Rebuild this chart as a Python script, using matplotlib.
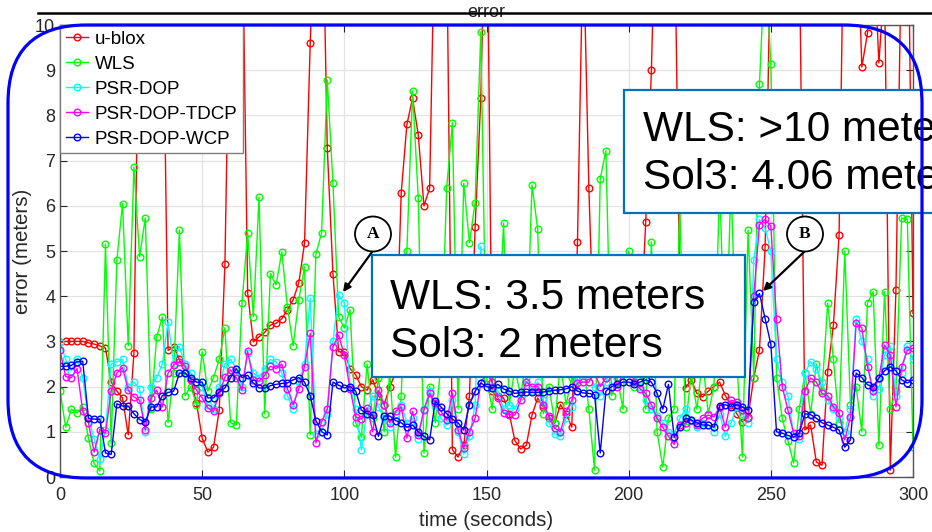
import numpy as np
import matplotlib
matplotlib.use('Agg')
import matplotlib.pyplot as plt
from matplotlib.patches import FancyBboxPatch, Rectangle, Ellipse, FancyArrowPatch
from matplotlib.lines import Line2D
from matplotlib.transforms import IdentityTransform

plt.rcParams['font.family'] = ['Liberation Sans', 'DejaVu Sans']

# one sample every 2 seconds, 0..300 s
time_s = np.arange(0, 301, 2)

ublox = [2.98, 3.00, 3.00, 3.00, 3.00, 2.97, 2.94, 2.90, 2.85, 2.10,
         1.90, 1.75, 0.93, 2.74, 12.0, 14.0, 15.0, 13.0, 12.0, 2.80,
         2.88, 2.60, 2.30, 2.15, 1.64, 0.86, 0.55, 0.66, 1.48, 4.71,
         12.0, 15.0, 13.0, 4.07, 2.99, 3.10, 3.20, 3.36, 3.40, 3.50,
         3.70, 3.92, 4.30, 5.17, 9.60, 13.0, 14.0, 7.28, 4.50, 2.77,
         2.77, 2.40, 2.26, 2.00, 1.92, 2.15, 1.80, 1.60, 2.00, 2.30,
         6.28, 7.80, 8.38, 7.57, 6.00, 6.39, 13.0, 15.0, 12.0, 0.60,
         0.44, 0.70, 1.80, 5.53, 8.38, 14.0, 1.90, 1.80, 1.75, 1.40,
         0.80, 0.62, 0.70, 1.37, 1.75, 1.55, 1.30, 1.19, 1.60, 1.40,
         1.10, 5.20, 12.0, 6.39, 2.50, 2.80, 2.20, 3.20, 2.60, 3.00,
         2.40, 2.70, 3.00, 5.64, 9.00, 14.0, 16.0, 15.0, 13.0, 4.00,
         1.97, 2.15, 1.85, 1.77, 1.90, 2.00, 2.10, 1.80, 1.60, 1.40,
         1.22, 1.33, 2.20, 2.81, 5.09, 12.0, 15.0, 14.0, 13.0, 15.0,
         12.0, 1.04, 1.15, 0.33, 0.26, 2.33, 3.36, 5.35, 14.0, 16.0,
         13.0, 9.07, 9.82, 12.0, 9.16, 11.0, 0.15, 4.14, 12.0, 14.0,
         3.62]

wls = [1.90, 1.10, 1.50, 1.42, 1.55, 0.86, 0.30, 0.13, 5.15, 0.75,
       4.80, 6.05, 2.90, 6.86, 4.87, 5.73, 1.50, 3.10, 3.54, 1.20,
       2.30, 5.46, 1.80, 2.00, 1.60, 2.77, 1.90, 2.20, 2.60, 3.30,
       1.20, 1.15, 3.85, 5.40, 3.54, 6.19, 1.40, 4.50, 4.25, 4.98,
       3.76, 2.90, 3.92, 4.65, 0.93, 4.93, 5.40, 8.78, 6.50, 3.54,
       3.30, 3.70, 1.20, 0.88, 2.50, 1.30, 2.20, 1.00, 2.30, 0.44,
       1.80, 5.00, 8.54, 6.17, 0.53, 2.00, 1.20, 2.50, 6.40, 7.84,
       1.50, 6.50, 5.18, 6.07, 9.85, 2.20, 1.50, 2.80, 5.62, 1.60,
       2.40, 1.80, 2.60, 6.46, 5.48, 1.40, 2.00, 1.20, 2.50, 1.60,
       2.20, 1.90, 2.60, 1.50, 0.15, 6.60, 7.22, 1.80, 2.20, 1.50,
       5.00, 2.00, 2.60, 1.50, 5.20, 1.00, 0.22, 1.30, 1.50, 6.00,
       1.10, 2.30, 1.50, 2.60, 1.40, 2.00, 6.50, 2.40, 6.50, 2.60,
       0.44, 5.46, 2.20, 8.69, 11.5, 9.13, 2.20, 1.30, 0.80, 0.31,
       1.50, 2.30, 1.40, 2.50, 1.90, 3.85, 2.60, 1.20, 5.00, 1.60,
       2.00, 1.00, 3.85, 4.10, 0.70, 4.10, 1.50, 1.90, 5.73, 5.70,
       0.66]

psr_dop = [2.98, 2.60, 2.35, 2.60, 2.20, 1.30, 0.85, 0.40, 1.05, 2.50,
           2.55, 2.60, 2.00, 2.10, 1.95, 1.00, 2.00, 2.20, 2.50, 3.43,
           2.50, 2.88, 2.50, 2.30, 2.10, 2.00, 1.60, 1.50, 2.00, 2.50,
           2.60, 2.40, 2.00, 2.75, 2.30, 2.20, 2.40, 2.60, 2.55, 2.30,
           1.80, 1.50, 2.10, 2.50, 3.96, 0.95, 1.00, 1.40, 3.00, 4.03,
           3.85, 2.00, 1.50, 0.60, 1.45, 1.80, 1.55, 1.30, 1.10, 1.40,
           1.60, 1.20, 1.30, 0.85, 1.50, 1.90, 1.60, 1.30, 1.15, 1.70,
           1.00, 0.50, 0.90, 1.60, 5.10, 2.50, 2.00, 1.90, 1.50, 1.60,
           1.50, 1.80, 2.20, 1.90, 2.10, 1.70, 1.20, 0.95, 0.90, 1.30,
           1.55, 2.20, 2.20, 2.30, 2.00, 1.80, 2.10, 2.40, 2.20, 2.60,
           2.80, 2.30, 2.00, 1.70, 1.50, 1.35, 1.20, 1.00, 0.95, 1.30,
           1.50, 1.25, 1.10, 1.20, 1.15, 1.00, 1.40, 0.90, 1.20, 1.55,
           1.40, 1.20, 4.80, 5.70, 5.50, 5.00, 2.60, 2.10, 1.80, 0.95,
           0.85, 2.30, 2.55, 2.40, 2.10, 1.70, 1.50, 1.30, 1.00, 1.50,
           3.50, 3.00, 2.60, 1.80, 1.95, 2.70, 2.90, 1.80, 2.30, 2.90,
           2.60]

psr_dop_tdcp = [2.80, 2.22, 2.20, 2.40, 1.45, 1.20, 0.55, 1.05, 0.97, 1.90,
                2.30, 2.42, 1.92, 1.77, 1.70, 1.05, 1.75, 1.92, 1.55, 2.30,
                2.48, 2.55, 2.45, 2.15, 1.92, 1.75, 1.53, 1.45, 1.85, 2.21,
                2.37, 2.20, 1.92, 2.78, 2.15, 2.12, 2.25, 2.45, 2.40, 2.50,
                1.95, 1.60, 1.95, 2.44, 3.18, 0.75, 1.22, 1.50, 2.88, 3.14,
                2.70, 1.95, 1.33, 1.28, 1.53, 1.00, 1.92, 1.60, 1.20, 1.45,
                1.55, 0.86, 1.45, 0.93, 1.48, 1.85, 1.64, 1.45, 1.26, 1.85,
                1.05, 0.64, 1.00, 1.30, 2.08, 2.30, 2.10, 1.75, 1.41, 1.38,
                1.37, 1.70, 2.10, 2.00, 2.00, 1.60, 1.35, 1.08, 1.00, 1.45,
                1.70, 2.08, 2.10, 2.10, 2.30, 2.00, 2.20, 2.50, 2.00, 2.30,
                2.60, 2.10, 1.95, 1.85, 1.60, 1.30, 1.10, 0.90, 0.72, 1.16,
                1.19, 1.26, 1.15, 1.30, 1.37, 1.33, 1.55, 1.10, 1.70, 1.66,
                1.48, 1.30, 4.00, 5.58, 5.70, 5.55, 3.50, 2.00, 1.48, 0.97,
                0.90, 1.90, 2.19, 2.10, 1.85, 1.80, 1.55, 1.41, 0.82, 1.33,
                3.40, 3.30, 2.44, 1.90, 2.19, 2.92, 2.70, 1.55, 2.44, 2.80,
                2.85]

psr_dop_wcp = [2.45, 2.45, 2.47, 2.55, 2.56, 1.30, 1.28, 1.28, 0.53, 0.50,
               1.62, 1.57, 1.57, 1.40, 1.27, 1.22, 1.55, 1.55, 1.80, 1.87,
               1.90, 2.30, 2.30, 2.18, 2.10, 2.10, 1.75, 1.75, 1.88, 1.97,
               2.20, 2.40, 2.20, 2.25, 2.08, 1.97, 1.97, 2.02, 2.05, 2.07,
               2.08, 2.15, 2.20, 2.10, 1.80, 1.25, 1.00, 0.93, 2.10, 2.03,
               1.97, 2.00, 1.90, 1.48, 1.40, 1.37, 0.90, 1.35, 1.35, 1.25,
               1.20, 1.10, 1.15, 1.00, 0.90, 0.82, 1.68, 1.55, 1.40, 1.28,
               1.20, 1.04, 1.60, 1.90, 2.08, 2.00, 1.97, 2.05, 1.95, 1.90,
               1.85, 1.87, 1.88, 1.87, 1.87, 1.88, 1.90, 1.92, 1.93, 1.95,
               2.00, 1.90, 1.86, 1.85, 1.82, 0.53, 1.90, 2.00, 2.05, 2.10,
               2.10, 2.05, 2.10, 2.15, 2.10, 1.85, 1.50, 2.05, 0.88, 1.10,
               1.30, 1.26, 1.20, 1.15, 1.15, 1.10, 1.58, 1.60, 1.55, 1.60,
               1.55, 1.48, 3.87, 4.06, 3.50, 2.94, 1.00, 0.97, 0.92, 0.88,
               0.97, 1.40, 1.38, 1.30, 1.20, 1.15, 1.10, 1.04, 0.66, 0.82,
               2.30, 2.20, 2.04, 2.00, 2.19, 2.35, 2.44, 2.35, 2.15, 2.08,
               2.15]

names = ['u-blox', 'WLS', 'PSR-DOP', 'PSR-DOP-TDCP', 'PSR-DOP-WCP']
colors = ['#ff0000', '#00ff00', '#00ffff', '#ff00ff', '#0000ff']
x_ticks = [0, 50, 100, 150, 200, 250, 300]
y_ticks = list(range(0, 11))

W, H = 932, 532
fig = plt.figure(figsize=(W / 100, H / 100), dpi=100)
ax = fig.add_axes([60 / W, 1 - 477 / H, (913 - 60) / W, (477 - 25) / H])

for vals, name, col in zip([ublox, wls, psr_dop, psr_dop_tdcp, psr_dop_wcp], names, colors):
    ax.plot(time_s, vals, '-o', color=col, lw=1, ms=4.8, mfc='none', mew=1, label=name)

ax.set_xlim(0, 300)
ax.set_ylim(0, 10)
ax.set_xticks(x_ticks)
ax.set_yticks(y_ticks)
ax.grid(True, color='#e3e3e3', lw=0.9)
ax.set_axisbelow(True)
ax.tick_params(direction='in', top=True, right=True, length=5, labelsize=13,
               colors='#262626', width=0.8)
ax.tick_params(axis='x', pad=7)
for sp in ax.spines.values():
    sp.set_color('#555555')
    sp.set_linewidth(1)

ax.set_title('error', fontsize=13, pad=6, color='#222222')
ax.set_xlabel('time (seconds)', fontsize=14.8, color='#262626', labelpad=5)
ax.set_ylabel('error (meters)', fontsize=14.8, color='#262626', labelpad=2)

leg = ax.legend(loc='upper left', borderaxespad=0, fontsize=13.5, fancybox=False,
                edgecolor='#7f7f7f', framealpha=1, handlelength=1.2,
                handletextpad=0.35, labelspacing=0.42, borderpad=0.3)
leg.get_frame().set_linewidth(1)

# text boxes
box_ec = '#0072BD'
fig.add_artist(Rectangle((372 / W, 1 - 377 / H), (745 - 372) / W, (377 - 255) / H,
                         transform=fig.transFigure, fc='white', ec=box_ec, lw=1.6, zorder=5))
fig.text(390 / W, 1 - 309 / H, 'WLS: 3.5 meters', fontsize=30.5, va='baseline', zorder=6)
fig.text(390 / W, 1 - 357 / H, 'Sol3: 2 meters', fontsize=30.5, va='baseline', zorder=6)

fig.add_artist(Rectangle((624 / W, 1 - 213 / H), 400 / W, (213 - 90) / H,
                         transform=fig.transFigure, fc='white', ec=box_ec, lw=1.6, zorder=5))
fig.text(643 / W, 1 - 141 / H, 'WLS: >10 meters', fontsize=30.5, va='baseline', zorder=6)
fig.text(643 / W, 1 - 189 / H, 'Sol3: 4.06 meters', fontsize=30.5, va='baseline', zorder=6)

# callout circles with arrows
for lab, cx, cy, tip in [('A', 373, 234, (343, 292)), ('B', 805, 234, (763, 291))]:
    fig.add_artist(Ellipse((cx / W, 1 - cy / H), 36 / W, 35 / H, transform=fig.transFigure,
                           fc='white', ec='black', lw=1.3, zorder=7))
    fig.text(cx / W, 1 - cy / H, lab, fontsize=12.5, fontweight='bold', ha='center', va='center',
             family=['Liberation Serif', 'DejaVu Serif'], zorder=8)
    start = ((cx - 1) / W, 1 - (cy + 18) / H)
    fig.add_artist(FancyArrowPatch(start, (tip[0] / W, 1 - tip[1] / H), transform=fig.transFigure,
                                   arrowstyle='-|>', mutation_scale=11, lw=1.6, color='black',
                                   shrinkA=0, shrinkB=0, zorder=8))

# rounded blue frame
fig.add_artist(FancyBboxPatch((8, H - 478), 914, 453, boxstyle='round,pad=0,rounding_size=78',
                              transform=IdentityTransform(), fc='none', ec='#0000ff', lw=2.3,
                              zorder=9))

# black rule across the top
fig.add_artist(Line2D([38 / W, 1.0], [1 - 12.5 / H, 1 - 12.5 / H], transform=fig.transFigure,
                      color='black', lw=1.8, zorder=10))

fig.savefig('out.png', dpi=100)
